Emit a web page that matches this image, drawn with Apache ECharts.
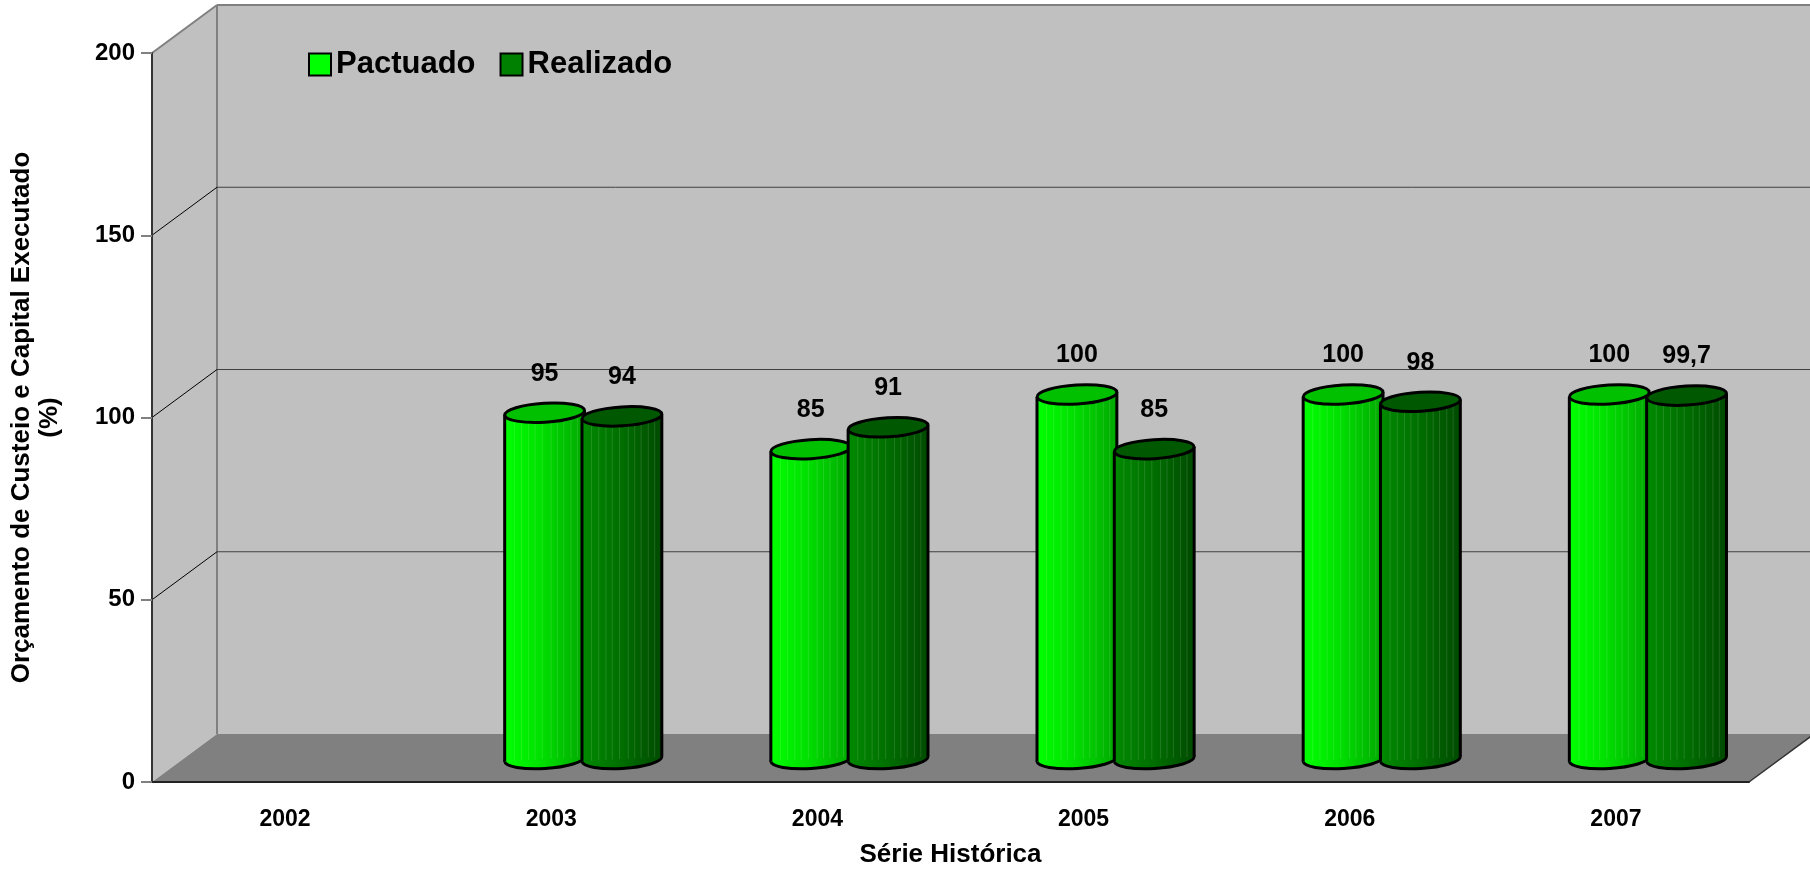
<!DOCTYPE html>
<html>
<head>
<meta charset="utf-8">
<title>Orçamento de Custeio e Capital Executado</title>
<script src="https://cdn.jsdelivr.net/npm/echarts@6/dist/echarts.min.js"></script>
<style>
  html, body { margin: 0; padding: 0; background: #fff; }
  #chart { width: 1810px; height: 873px; }
</style>
</head>
<body>
<div id="chart"></div>
<script>
const categories = ['2002', '2003', '2004', '2005', '2006', '2007'];
const pactuado = [null, 95, 85, 100, 100, 100];
const realizado = [null, 94, 91, 85, 98, 99.7];
const yTicks = [0, 50, 100, 150, 200];

const FONT = '"Liberation Sans", Arial, sans-serif';
// "3D" falso: deslocamento da parede do fundo e dos cilindros
const WALL_DX = 65, WALL_DY = -48;
const BAR_DX = 32, BAR_DY = -23;
const TILT = 0.06;
const STRIPES = [0.12, 0.21, 0.3, 0.38, 0.47, 0.58, 0.66, 0.74, 0.83, 0.91];

const lookP = {
  body: [{ offset: 0, color: '#00ff00' }, { offset: 0.45, color: '#00e000' }, { offset: 1, color: '#00a800' }],
  top: '#00c000'
};
const lookR = {
  body: [{ offset: 0, color: '#008a00' }, { offset: 0.5, color: '#006e00' }, { offset: 1, color: '#004a00' }],
  top: '#005800'
};

function renderWalls(params, api) {
  const cs = params.coordSys;
  const x0 = cs.x, x1 = cs.x + cs.width;
  const yTop = api.coord([0, yTicks[yTicks.length - 1]])[1];
  const yBot = api.coord([0, 0])[1];
  const kids = [
    { type: 'polygon', shape: { points: [[x0, yTop], [x0 + WALL_DX, yTop + WALL_DY], [x0 + WALL_DX, yBot + WALL_DY], [x0, yBot]] },
      style: { fill: '#c0c0c0' } },
    { type: 'rect', shape: { x: x0 + WALL_DX, y: yTop + WALL_DY, width: x1 - x0, height: yBot - yTop },
      style: { fill: '#c0c0c0' } },
    { type: 'polygon', shape: { points: [[x0, yBot], [x0 + WALL_DX, yBot + WALL_DY], [x1 + WALL_DX, yBot + WALL_DY], [x1, yBot]] },
      style: { fill: '#808080' } },
    { type: 'line', shape: { x1: x1, y1: yBot, x2: x1 + WALL_DX, y2: yBot + WALL_DY },
      style: { stroke: '#333', lineWidth: 1.5 } },
    { type: 'line', shape: { x1: x0 + WALL_DX, y1: yTop + WALL_DY, x2: x0 + WALL_DX, y2: yBot + WALL_DY },
      style: { stroke: '#808080', lineWidth: 2 } }
  ];
  yTicks.forEach(function (t, i) {
    if (i === 0) return;
    const yy = api.coord([0, t])[1];
    const last = i === yTicks.length - 1;
    kids.push({ type: 'line', shape: { x1: x0 + WALL_DX, y1: yy + WALL_DY, x2: x1 + WALL_DX, y2: yy + WALL_DY },
      style: { stroke: last ? '#808080' : '#404040', lineWidth: last ? 2 : 1 } });
    kids.push({ type: 'line', shape: { x1: x0, y1: yy, x2: x0 + WALL_DX, y2: yy + WALL_DY },
      style: { stroke: last ? '#808080' : '#000', lineWidth: last ? 2 : 1 } });
  });
  return { type: 'group', children: kids };
}

function cylinder(side, look) {
  return function (params, api) {
    const v = api.value(1);
    if (v == null || isNaN(v)) return null;
    const top = api.coord([api.value(0), v]);
    const base = api.coord([api.value(0), 0]);
    const w = api.size([1, 0])[0] * 0.3;
    const rx = w / 2, ry = 9.5;
    const d = rx * Math.sin(TILT);
    const cx = top[0] + BAR_DX + side * w * 0.484;
    const ty = top[1] + BAR_DY, by = base[1] + BAR_DY;
    const L = cx - rx, R = cx + rx;
    const body = new echarts.graphic.LinearGradient(0, 0, 1, 0, look.body);
    const kids = [
      { type: 'ellipse', shape: { cx: cx, cy: by, rx: rx, ry: ry }, rotation: TILT, originX: cx, originY: by,
        style: { fill: body, stroke: '#000', lineWidth: 3 } },
      { type: 'polygon', shape: { points: [[L, ty + d], [R, ty - d], [R, by - d], [L, by + d]] }, style: { fill: body } }
    ];
    STRIPES.forEach(function (f) {
      const sx = L + f * w;
      const k = d * (1 - 2 * f);
      kids.push({ type: 'line', shape: { x1: sx, y1: ty + k, x2: sx, y2: by + k },
        style: { stroke: 'rgba(255,255,255,0.13)', lineWidth: 1 } });
    });
    kids.push(
      { type: 'line', shape: { x1: L, y1: ty + d, x2: L, y2: by + d }, style: { stroke: '#000', lineWidth: 3 } },
      { type: 'line', shape: { x1: R, y1: ty - d, x2: R, y2: by - d }, style: { stroke: '#000', lineWidth: 3 } },
      { type: 'ellipse', shape: { cx: cx, cy: ty, rx: rx, ry: ry }, rotation: TILT, originX: cx, originY: ty,
        style: { fill: look.top, stroke: '#000', lineWidth: 3 } },
      { type: 'text', style: { text: String(v).replace('.', ','), x: cx, y: ty - 39,
          textAlign: 'center', textVerticalAlign: 'middle', align: 'center', verticalAlign: 'middle',
          font: 'bold 25px ' + FONT, fill: '#000' } }
    );
    return { type: 'group', children: kids };
  };
}

const chart = echarts.init(document.getElementById('chart'));
chart.setOption({
  animation: false,
  backgroundColor: '#fff',
  grid: { left: 148, right: 61, top: 53, bottom: 85 },
  legend: {
    left: 303, top: 44, itemWidth: 22, itemHeight: 22, itemGap: 24, selectedMode: false,
    data: [{ name: 'Pactuado', icon: 'rect' }, { name: 'Realizado', icon: 'rect' }],
    itemStyle: { borderColor: '#000', borderWidth: 2 },
    textStyle: { fontSize: 31, fontWeight: 'bold', color: '#000', fontFamily: FONT }
  },
  xAxis: {
    type: 'category', data: categories, z: 10,
    axisLine: { lineStyle: { color: '#222', width: 2 } },
    axisTick: { length: 13, lineStyle: { color: '#555', width: 1.5 } },
    axisLabel: { margin: 26, fontSize: 23, fontWeight: 'bold', color: '#000', fontFamily: FONT },
    name: 'Série Histórica', nameLocation: 'middle', nameGap: 60,
    nameTextStyle: { fontSize: 26, fontWeight: 'bold', color: '#000', fontFamily: FONT }
  },
  yAxis: {
    type: 'value', min: 0, max: 200, interval: 50, z: 10,
    axisLine: { show: true, lineStyle: { color: '#333', width: 2 } },
    axisTick: { show: true, length: 11, lineStyle: { color: '#808080', width: 2 } },
    axisLabel: { margin: 17, fontSize: 24, fontWeight: 'bold', color: '#000', fontFamily: FONT },
    splitLine: { show: false },
    name: 'Orçamento de Custeio e Capital Executado\n(%)', nameLocation: 'middle', nameGap: 88, nameRotate: 90,
    nameTextStyle: { fontSize: 26, fontWeight: 'bold', color: '#000', fontFamily: FONT, lineHeight: 28 }
  },
  series: [
    { type: 'custom', name: 'fundo', silent: true, z: 1, renderItem: renderWalls, data: [[0, 0]] },
    { type: 'custom', name: 'Pactuado', z: 3, renderItem: cylinder(-1, lookP),
      itemStyle: { color: '#00ff00' }, data: categories.map(function (c, i) { return [i, pactuado[i]]; }) },
    { type: 'custom', name: 'Realizado', z: 3, renderItem: cylinder(1, lookR),
      itemStyle: { color: '#008000' }, data: categories.map(function (c, i) { return [i, realizado[i]]; }) }
  ]
});
window.addEventListener('resize', function () { chart.resize(); });
</script>
</body>
</html>
